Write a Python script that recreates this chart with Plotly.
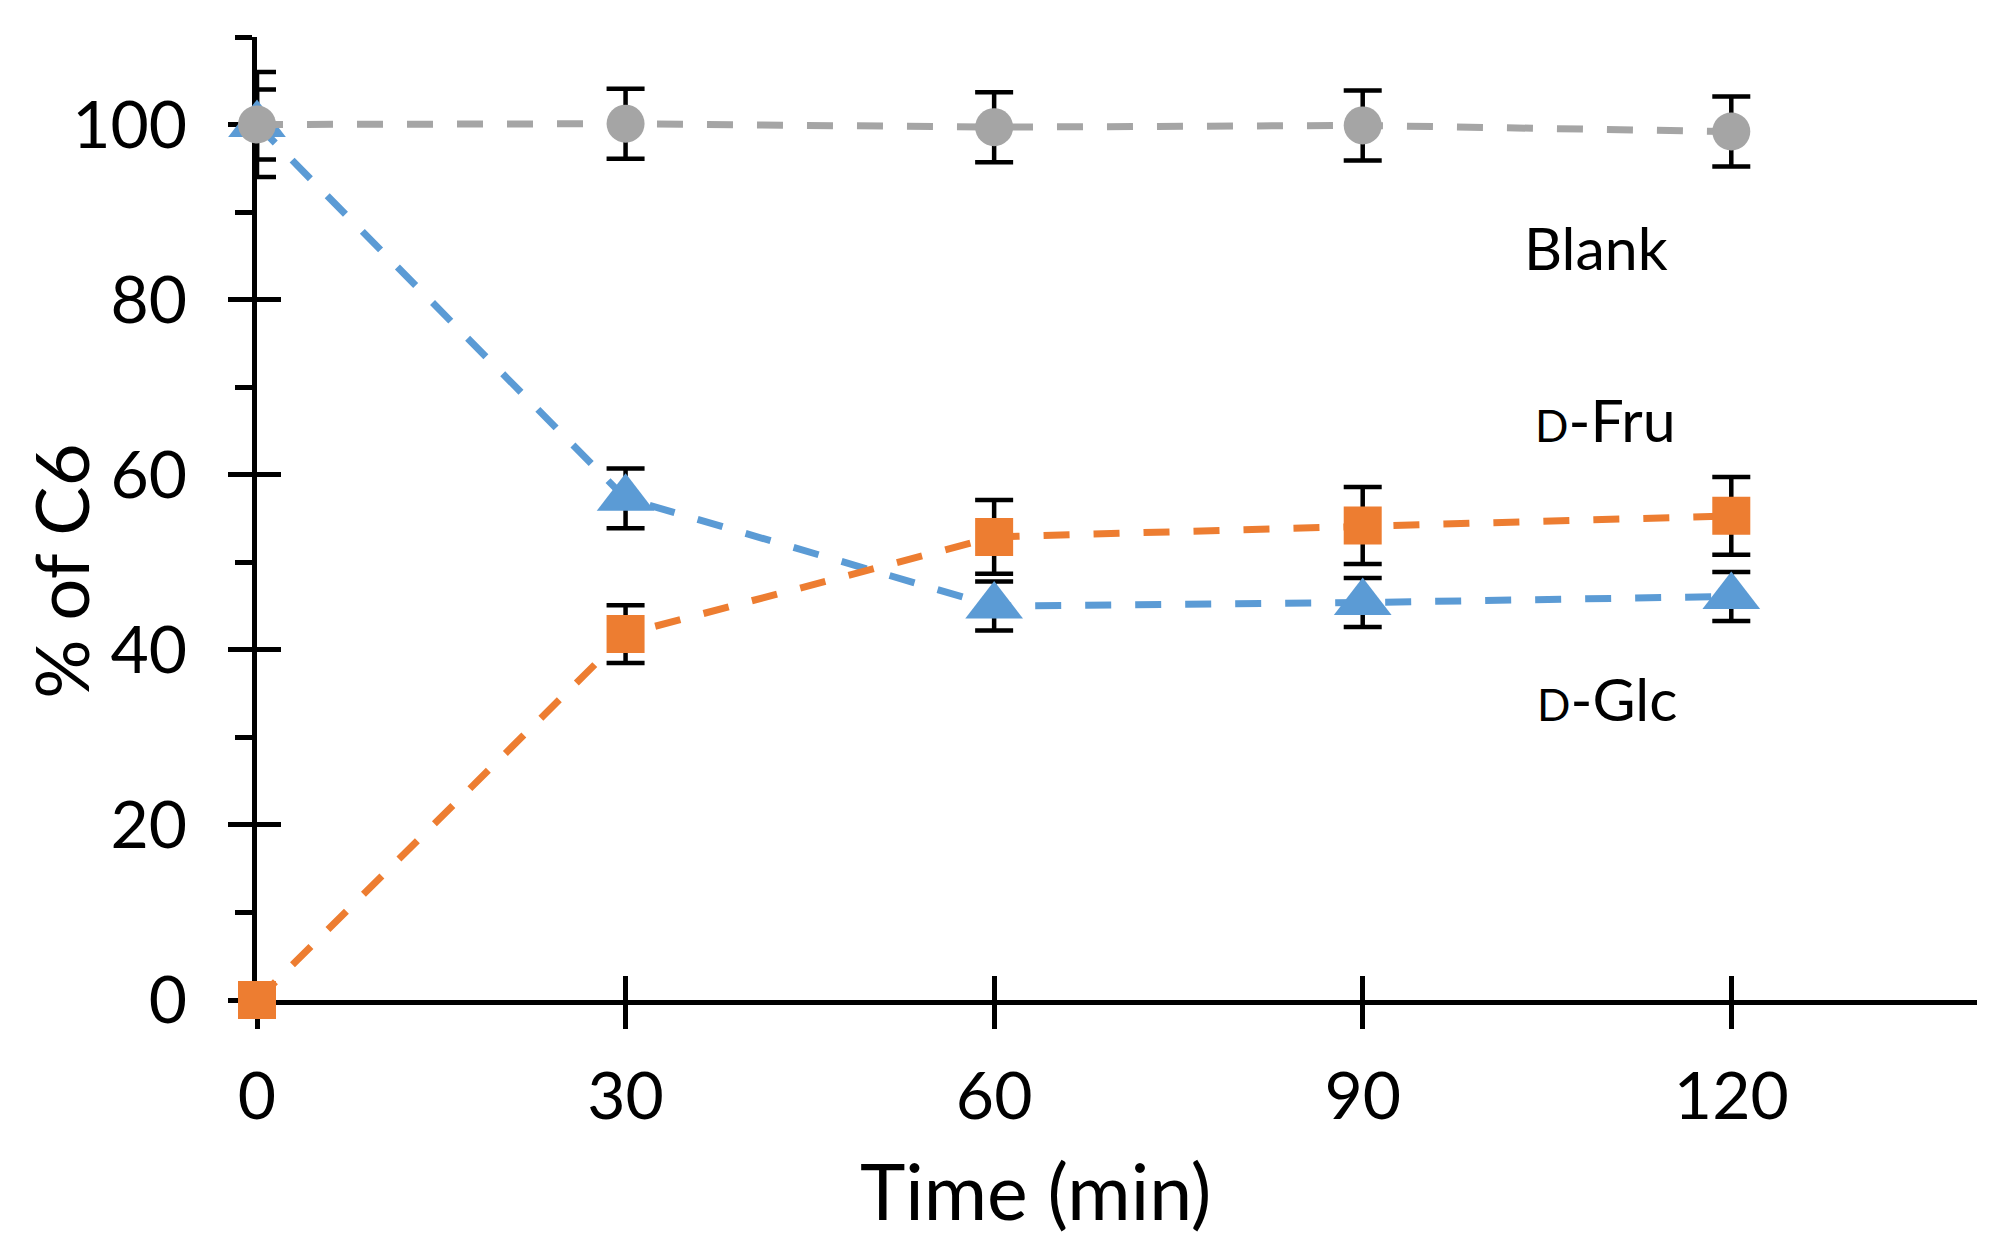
import plotly.graph_objects as go

# ---- data ----
time_min = [0, 30, 60, 90, 120]

blank = [100.0, 100.1, 99.7, 99.9, 99.2]
blank_err = [4.0, 4.0, 4.0, 4.0, 4.0]

fru = [0.0, 41.8, 52.9, 54.2, 55.3]
fru_err = [0.0, 3.3, 4.2, 4.4, 4.45]

glc = [100.0, 57.3, 45.0, 45.4, 46.1]
glc_err = [6.0, 3.4, 2.8, 2.8, 2.8]

x_ticks = [0, 30, 60, 90, 120]
y_ticks = [0, 20, 40, 60, 80, 100]
y_minor = [10, 30, 50, 70, 90, 110]

label_names = ["Blank", "<span style='font-size:44px'>D</span>-Fru", "<span style='font-size:44px'>D</span>-Glc"]
label_x = [109.0, 109.8, 109.9]
label_y = [86.0, 66.3, 34.4]

FONT = "Lato"
GRAY = "#A5A5A5"
ORANGE = "#ED7D31"
BLUE = "#5B9BD5"

series = [
    ("D-Glc", glc, glc_err, BLUE, "triangle-up", 50),
    ("D-Fru", fru, fru_err, ORANGE, "square", 38),
    ("Blank", blank, blank_err, GRAY, "circle", 38),
]

fig = go.Figure()

# error bars (clipped to plot area)
for name, ys, err, color, sym, sz in series:
    fig.add_trace(go.Scatter(
        x=time_min, y=ys, mode="markers",
        marker=dict(size=2, opacity=0),
        error_y=dict(type="data", array=err, visible=True, color="black",
                     thickness=4.5, width=19),
        cliponaxis=True, hoverinfo="skip", showlegend=False,
    ))

# lines + markers
for name, ys, err, color, sym, sz in series:
    fig.add_trace(go.Scatter(
        x=time_min, y=ys, mode="lines+markers", name=name,
        line=dict(color=color, width=7, dash="26px,24px"),
        marker=dict(symbol=sym, size=sz, color=color, line=dict(width=0)),
        cliponaxis=False, showlegend=False,
    ))

# dummy trace for overlay axes (inside half of crossing ticks)
fig.add_trace(go.Scatter(x=[None], y=[None], xaxis="x2", yaxis="y2",
                         showlegend=False, hoverinfo="skip"))

for txt, lx, ly in zip(label_names, label_x, label_y):
    fig.add_annotation(x=lx, y=ly, xref="x", yref="y", text=txt, showarrow=False,
                       font=dict(family=FONT, size=59, color="black"),
                       xanchor="center", yanchor="middle")

# axis titles
fig.add_annotation(x=0.4528, y=0, xref="paper", yref="paper", yshift=-190,
                   text="Time (min)", showarrow=False,
                   font=dict(family=FONT, size=77, color="black"),
                   xanchor="center", yanchor="middle")
fig.add_annotation(x=0, y=0.4448, xref="paper", yref="paper", xshift=-196,
                   text="% of C6", showarrow=False, textangle=-90,
                   font=dict(family=FONT, size=74, color="black"),
                   xanchor="center", yanchor="middle")

axis_common = dict(showgrid=False, zeroline=False, layer="below traces")

fig.update_layout(
    width=1984, height=1241,
    margin=dict(l=249, r=15, t=29, b=249),
    paper_bgcolor="white", plot_bgcolor="white",
    showlegend=False,
    font=dict(family=FONT, color="black"),
    xaxis=dict(range=[0, 140], tickmode="array", tickvals=x_ticks,
               ticks="outside", ticklen=24, tickwidth=4.5, tickcolor="black",
               showline=True, linewidth=4.5, linecolor="black",
               tickfont=dict(family=FONT, size=66, color="black"),
               ticklabelstandoff=11, **axis_common),
    yaxis=dict(range=[0, 110], tickmode="array", tickvals=y_ticks,
               ticks="outside", ticklen=24, tickwidth=4.5, tickcolor="black",
               minor=dict(tickmode="array", tickvals=y_minor, ticks="outside",
                          ticklen=17, tickwidth=4.5, tickcolor="black"),
               showline=True, linewidth=4.5, linecolor="black",
               tickfont=dict(family=FONT, size=66, color="black"),
               ticklabelstandoff=28, **axis_common),
    xaxis2=dict(range=[0, 140], overlaying="x", anchor="y", tickmode="array",
                tickvals=x_ticks, ticks="inside", ticklen=24, tickwidth=4.5,
                tickcolor="black", showticklabels=False, showline=False,
                **axis_common),
    yaxis2=dict(range=[0, 110], overlaying="y", anchor="x", side="left",
                tickmode="array", tickvals=y_ticks, ticks="inside", ticklen=24,
                tickwidth=4.5, tickcolor="black", showticklabels=False,
                showline=False, **axis_common),
)

fig.write_html("out.html")
